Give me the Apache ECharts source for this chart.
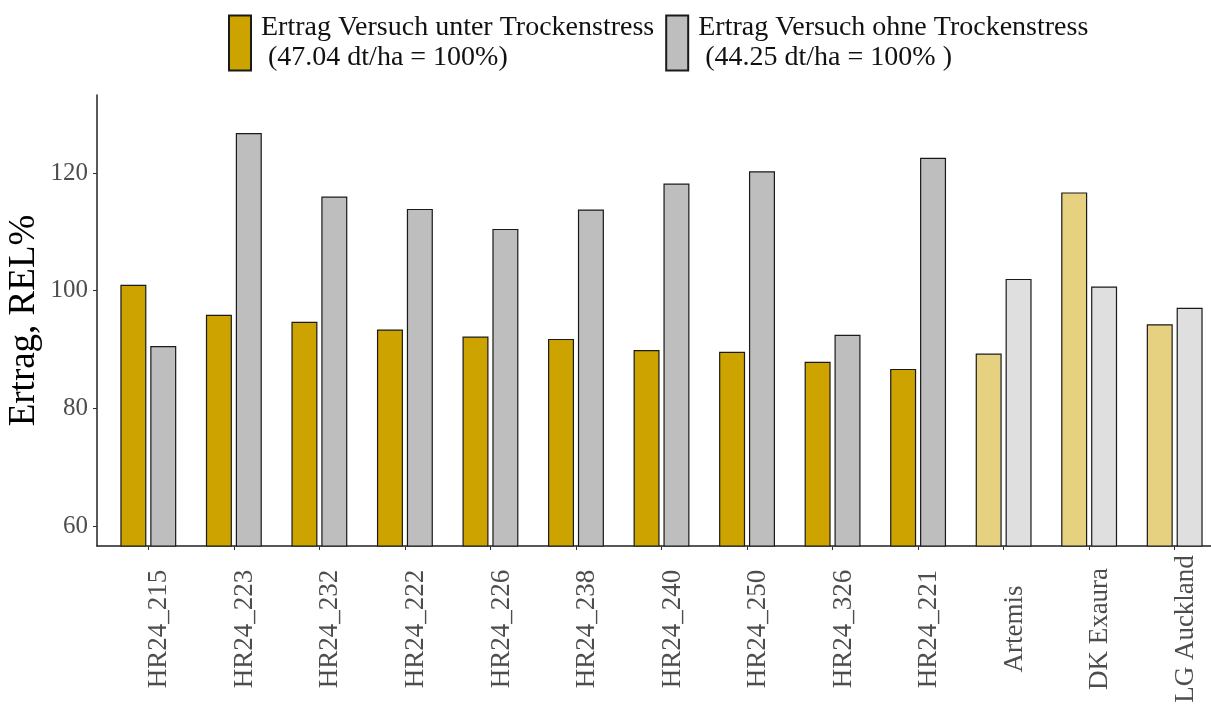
<!DOCTYPE html>
<html>
<head>
<meta charset="utf-8">
<script src="https://cdn.jsdelivr.net/npm/echarts@6/dist/echarts.min.js"></script>
<style>
  html, body { margin: 0; padding: 0; background: #fff; }
  #chart { width: 1211px; height: 704px; }
</style>
</head>
<body>
<div id="chart"></div>
<script>
// Sorten
const categories = ['HR24_215', 'HR24_223', 'HR24_232', 'HR24_222', 'HR24_226', 'HR24_238',
  'HR24_240', 'HR24_250', 'HR24_326', 'HR24_221', 'Artemis', 'DK Exaura', 'LG Auckland']
// Ertrag relativ (%) unter / ohne Trockenstress
const stressValues = [101.0, 95.9, 94.7, 93.4, 92.2, 91.8, 89.9, 89.6, 87.9, 86.7, 89.3, 116.7, 94.3]
const noStressValues = [90.6, 126.8, 116.0, 113.9, 110.5, 113.8, 118.2, 120.3, 92.5, 122.6, 102.0, 100.7, 97.1]
// Vergleichssorten (heller dargestellt)
const checkVarieties = ['Artemis', 'DK Exaura', 'LG Auckland']
const yTicks = [60, 80, 100, 120]

const seriesNames = [
  'Ertrag Versuch unter Trockenstress\n (47.04 dt/ha = 100%)',
  'Ertrag Versuch ohne Trockenstress\n (44.25 dt/ha = 100% )'
]

const font = 'Liberation Serif'
const chart = echarts.init(document.getElementById('chart'))

const toData = (values, color, lightColor) =>
  values.map((v, i) => ({
    value: [i, v],
    itemStyle: { color: checkVarieties.includes(categories[i]) ? lightColor : color }
  }))

chart.setOption({
  animation: false,
  textStyle: { fontFamily: font },
  legend: {
    left: 223,
    top: 8,
    itemWidth: 22,
    itemHeight: 55,
    itemGap: 11,
    icon: 'rect',
    textStyle: {
      fontFamily: font,
      fontSize: 28,
      lineHeight: 30,
      color: '#111',
      padding: [0, 0, 0, 5]
    }
  },
  grid: {
    left: 97,
    right: -15,
    top: 95,
    bottom: 158,
    containLabel: false,
    outerBoundsMode: 'none'
  },
  xAxis: {
    type: 'value',
    min: -0.6,
    max: 12.6,
    splitLine: { show: false },
    axisLine: { show: true, onZero: false, lineStyle: { color: '#222', width: 1.5 } },
    axisTick: { show: true, customValues: categories.map((_, i) => i), length: 4, lineStyle: { color: '#333' } },
    axisLabel: {
      customValues: categories.map((_, i) => i),
      formatter: v => categories[Math.round(v)],
      rotate: 90,
      align: 'center',
      verticalAlign: 'top',
      lineHeight: 22,
      margin: 83,
      fontFamily: font,
      fontSize: 27,
      color: '#4D4D4D'
    }
  },
  yAxis: {
    type: 'value',
    min: 56.6,
    max: 133.26,
    name: 'Ertrag, REL%',
    nameLocation: 'middle',
    nameGap: 54,
    nameMoveOverlap: false,
    nameTextStyle: { fontFamily: font, fontSize: 37, color: '#000' },
    splitLine: { show: false },
    axisLine: { show: true, onZero: false, lineStyle: { color: '#222', width: 1.5 } },
    axisTick: { show: true, customValues: yTicks, length: 4, lineStyle: { color: '#333' } },
    axisLabel: {
      customValues: yTicks,
      margin: 9,
      fontFamily: font,
      fontSize: 25,
      color: '#4D4D4D'
    }
  },
  series: [
    {
      name: seriesNames[0],
      type: 'bar',
      barWidth: 26,
      barGap: '15%',
      itemStyle: { color: '#CDA300', borderColor: '#1a1a1a', borderWidth: 1.2 },
      data: toData(stressValues, '#CDA300', '#E6D180')
    },
    {
      name: seriesNames[1],
      type: 'bar',
      barWidth: 26,
      barGap: '15%',
      itemStyle: { color: '#BEBEBE', borderColor: '#1a1a1a', borderWidth: 1.2 },
      data: toData(noStressValues, '#BEBEBE', '#DFDFDF')
    }
  ]
})
</script>
</body>
</html>
